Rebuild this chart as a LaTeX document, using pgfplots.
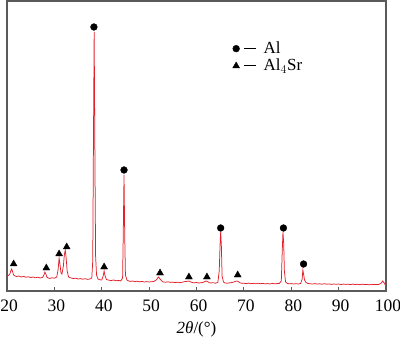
\documentclass[border=0pt]{standalone}
\usepackage{pgfplots}
\pgfplotsset{compat=1.18}
\usepackage{fontspec}
\setmainfont{Liberation Serif}
\definecolor{xrdred}{RGB}{226,32,42}
\definecolor{axgray}{RGB}{90,90,90}
\begin{document}
\fontsize{17bp}{20bp}\selectfont
\begin{tikzpicture}
\begin{axis}[
  scale only axis,
  width=379bp, height=290bp,
  xmin=20, xmax=100, ymin=0, ymax=290,
  xtick={20,30,...,100},
  ytick=\empty,
  xtick pos=bottom,
  tick align=inside,
  major tick length=4bp,
  axis line style={axgray, line width=1.5bp},
  every tick/.style={axgray, line width=0.8bp},
  /pgf/number format/assume math mode=true,
  ticklabel style={font=\fontsize{17.5bp}{20bp}\selectfont},
  xticklabel style={yshift=-3bp, xshift=2bp},
  xlabel={{\itshape 2θ}/(°)},
  xlabel style={font=\fontsize{17bp}{20bp}\selectfont, yshift=2bp},
  legend style={draw=none, fill=none, at={(0.595,0.868)}, anchor=north west,
    font=\fontsize{17bp}{19bp}\selectfont, row sep=-1bp, inner sep=0pt,
    /tikz/every odd column/.append style={column sep=5bp}},
  legend cell align=left,
  legend image code/.code={
    \draw[#1] plot coordinates {(3.4bp,0bp)};
    \draw[black,line width=0.9bp] (11.5bp,0.5bp) -- (23.5bp,0.5bp);
  },
]
\addplot[xrdred, line width=0.75bp, forget plot] coordinates {
(20.0,16)(20.3,15.5)(20.6,17)(20.8,20)(21.0,22)(21.2,19)(21.4,16)(21.7,15)
(22.0,14.5)(22.5,15)(23.0,14)(23.5,14.6)(24.0,13.8)(24.5,14.2)(25.0,13.5)
(25.5,14)(26.0,13.2)(26.5,13.8)(27.0,13)(27.5,13.6)(27.8,16)(28.0,19)
(28.2,17)(28.4,14)(28.7,13)(29.0,12.6)(29.5,13.2)(30.0,12.8)(30.5,14)
(30.8,22)(31.0,33)(31.2,26)(31.4,18)(31.6,17)(31.9,25)(32.1,36)(32.3,41)
(32.5,32)(32.7,20)(33.0,14)(33.5,13)(34.0,12.5)(34.5,12.8)(35.0,12)
(35.5,12.4)(36.0,11.8)(36.5,12.3)(37.0,11.6)(37.5,12)(37.9,13)(38.1,30)
(38.25,150)(38.4,259)(38.55,140)(38.7,35)(38.9,16)(39.2,12)(39.6,11.2)
(40.0,11)(40.3,15)(40.5,20)(40.7,15)(41.0,11.5)(41.5,10.8)(42.0,10.5)
(42.5,11)(43.0,10.2)(43.5,10.6)(44.0,10)(44.4,13)(44.55,60)(44.7,116)
(44.85,55)(45.0,16)(45.3,11)(45.7,10)(46.0,9.6)(46.5,10)(47.0,9.3)
(47.5,9.8)(48.0,9.2)(48.5,9.6)(49.0,9)(49.5,9.4)(50.0,9)(50.5,9.3)
(51.0,9.5)(51.5,11)(51.8,13)(52.0,14)(52.3,12)(52.7,10)(53.0,9)
(53.5,8.8)(54.0,9.2)(54.5,8.6)(55.0,8.9)(55.5,8.4)(56.0,8.8)(56.5,8.3)
(57.0,8.8)(57.5,9.4)(58.0,9.6)(58.4,10)(58.8,9)(59.2,8.4)(59.6,8.2)
(60.0,8.5)(60.5,8)(61.0,8.3)(61.5,8.8)(62.0,10)(62.3,9.5)(62.7,8.4)
(63.0,8)(63.5,8.3)(64.0,7.8)(64.5,8.5)(64.8,20)(65.0,50)(65.1,59)
(65.25,45)(65.4,15)(65.7,9)(66.0,8)(66.5,7.8)(67.0,8.2)(67.5,8.5)
(68.0,9.2)(68.5,10)(68.8,9.5)(69.2,8.2)(69.6,7.6)(70.0,7.8)(70.5,7.4)
(71.0,7.9)(71.5,7.3)(72.0,7.7)(72.5,7.2)(73.0,7.8)(73.5,7.3)(74.0,7.6)
(74.5,7.1)(75.0,7.5)(75.5,7)(76.0,7.6)(76.5,7.2)(77.0,7.4)(77.5,7.6)
(77.9,10)(78.1,40)(78.25,59)(78.4,48)(78.55,20)(78.8,9)(79.2,7.5)
(79.6,7.2)(80.0,7.4)(80.5,7)(81.0,7.3)(81.5,7)(82.0,7.6)(82.3,12)
(82.45,21)(82.6,17)(82.8,11)(83.1,8.5)(83.5,7.6)(84.0,7.2)(84.5,7)
(85.0,7.4)(85.5,6.9)(86.0,7.2)(86.5,6.8)(87.0,7.3)(87.5,6.8)(88.0,7.1)
(88.5,6.6)(89.0,7)(89.5,6.7)(90.0,7)(90.5,6.5)(91.0,6.9)(91.5,6.6)
(92.0,6.8)(92.5,6.4)(93.0,6.9)(93.5,6.5)(94.0,6.7)(94.5,6.3)(95.0,6.8)
(95.5,6.4)(96.0,6.6)(96.5,6.2)(97.0,6.7)(97.5,6.4)(98.0,6.5)(98.5,6.6)
(99.0,8)(99.3,10)(99.6,8)(99.8,6.5)(100,6)
};
\addplot[only marks, mark=*, mark size=3.4bp, black] coordinates {
(38.35,264)(44.7,121)(65.1,63)(78.35,63)(82.6,27)
};
\addlegendentry{Al}
\addplot[only marks, mark=triangle*, mark size=4bp, black] coordinates {
(21.4,27)(28.3,23)(31.0,37)(32.6,44)(40.5,24)(52.3,18)(58.4,14)(62.2,14)(68.7,16)
};
\addlegendentry{Al$_4$Sr}
\end{axis}
\pgfresetboundingbox
\path (current axis.south west) ++(-7bp,-46bp) coordinate (bbl);
\path (current axis.north east) ++(14bp,1bp) coordinate (btr);
\path[use as bounding box] (bbl) rectangle (btr);
\end{tikzpicture}
\end{document}
